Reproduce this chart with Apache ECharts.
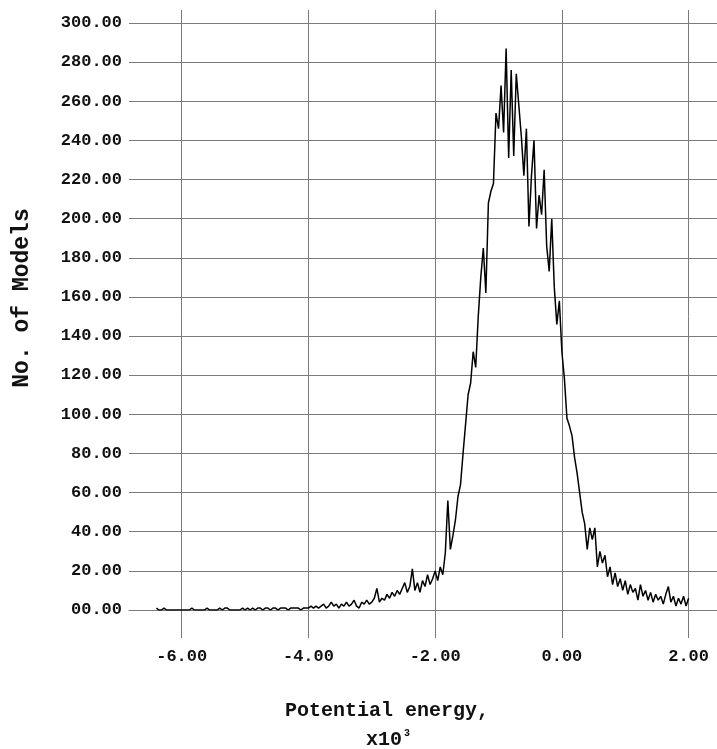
<!DOCTYPE html>
<html>
<head>
<meta charset="utf-8">
<title>Potential energy histogram</title>
<script src="https://cdn.jsdelivr.net/npm/echarts@6/dist/echarts.min.js"></script>
<style>
  html, body { margin: 0; padding: 0; background: #fff; }
  #main { width: 717px; height: 749px; }
</style>
</head>
<body>
<div id="main"></div>
<script>
// bins of potential energy (x10^3), counts
var binStart = -6.40;
var binWidth = 0.04;
var counts = [
  1, 0, 0, 1, 0, 0, 0, 0, 0, 0,
  0, 0, 0, 0, 1, 0, 0, 0, 0, 0,
  1, 0, 0, 0, 0, 1, 0, 1, 1, 0,
  0, 0, 0, 0, 1, 0, 1, 0, 1, 0,
  1, 1, 0, 1, 1, 0, 1, 1, 0, 1,
  1, 1, 0, 1, 1, 1, 1, 0, 1, 1,
  1, 2, 1, 2, 1, 2, 3, 1, 2, 4,
  2, 3, 1, 3, 2, 4, 2, 3, 5, 2,
  1, 4, 3, 5, 3, 4, 6, 11, 4, 6,
  5, 8, 6, 9, 7, 10, 8, 11, 14, 9,
  12, 21, 10, 14, 9, 15, 12, 18, 13, 16,
  20, 15, 22, 18, 29, 56, 31, 38, 46, 58,
  64, 80, 95, 110, 116, 132, 124, 150, 170, 185,
  162, 208, 214, 218, 254, 246, 268, 244, 287, 231,
  276, 232, 274, 258, 242, 222, 246, 196, 222, 240,
  195, 212, 202, 225, 186, 173, 200, 165, 146, 158,
  132, 118, 98, 94, 89, 78, 70, 60, 50, 44,
  31, 42, 36, 42, 22, 30, 24, 28, 17, 22,
  13, 19, 12, 16, 10, 15, 8, 13, 9, 11,
  5, 13, 7, 10, 5, 9, 4, 8, 5, 7,
  3, 8, 12, 4, 7, 2, 6, 3, 7, 2, 6
];
var xTicks = [-6, -4, -2, 0, 2];
var yMin = 0, yMax = 300, yStep = 20;

var points = [];
for (var i = 0; i < counts.length; i++) {
  points.push([+(binStart + i * binWidth).toFixed(2), counts[i]]);
}

var gridColor = '#7a7a7a';
var labelFont = {
  fontFamily: 'Liberation Mono',
  fontWeight: 'bold',
  fontSize: 17,
  color: '#111'
};

var myChart = echarts.init(document.getElementById('main'));
var option = {
  animation: false,
  backgroundColor: '#fff',
  grid: { left: 129, right: 0, top: 23, bottom: 139 },
  xAxis: [
    {
      type: 'value',
      min: -6.832,
      max: 2.448,
      axisLine: { show: true, lineStyle: { color: gridColor, width: 1 } },
      axisTick: { show: true, length: 28, customValues: xTicks, lineStyle: { color: gridColor } },
      splitLine: { show: true, lineStyle: { color: gridColor, width: 1 } },
      axisLabel: Object.assign({
        customValues: xTicks,
        margin: 38,
        formatter: function (v) { return v.toFixed(2); }
      }, labelFont)
    },
    {
      type: 'value',
      position: 'top',
      min: -6.832,
      max: 2.448,
      axisLine: { show: false },
      axisTick: { show: true, length: 13, customValues: xTicks, lineStyle: { color: gridColor } },
      splitLine: { show: false },
      axisLabel: { show: false }
    }
  ],
  yAxis: {
    type: 'value',
    min: yMin,
    max: yMax,
    interval: yStep,
    axisLine: { show: false },
    axisTick: { show: false },
    splitLine: { show: true, lineStyle: { color: gridColor, width: 1 } },
    axisLabel: Object.assign({
      margin: 7,
      formatter: function (v) { return v === 0 ? '00.00' : v.toFixed(2); }
    }, labelFont)
  },
  graphic: [
    {
      type: 'text',
      x: 22, y: 298,
      rotation: Math.PI / 2,
      style: {
        text: 'No. of Models',
        fontFamily: 'Liberation Mono', fontWeight: 'bold', fontSize: 23,
        fill: '#111', align: 'center', verticalAlign: 'middle'
      }
    },
    {
      type: 'text',
      x: 387, y: 711,
      style: {
        text: 'Potential energy,',
        fontFamily: 'Liberation Mono', fontWeight: 'bold', fontSize: 20,
        fill: '#111', align: 'center', verticalAlign: 'middle'
      }
    },
    {
      type: 'text',
      x: 384, y: 740,
      style: {
        text: 'x10',
        fontFamily: 'Liberation Mono', fontWeight: 'bold', fontSize: 20,
        fill: '#111', align: 'center', verticalAlign: 'middle'
      }
    },
    {
      type: 'text',
      x: 407, y: 733,
      style: {
        text: '3',
        fontFamily: 'Liberation Mono', fontWeight: 'bold', fontSize: 10,
        fill: '#111', align: 'center', verticalAlign: 'middle'
      }
    }
  ],
  series: [
    {
      type: 'line',
      xAxisIndex: 0,
      data: points,
      showSymbol: false,
      lineStyle: { color: '#000', width: 1.5 },
      z: 3
    }
  ]
};
myChart.setOption(option);
</script>
</body>
</html>
